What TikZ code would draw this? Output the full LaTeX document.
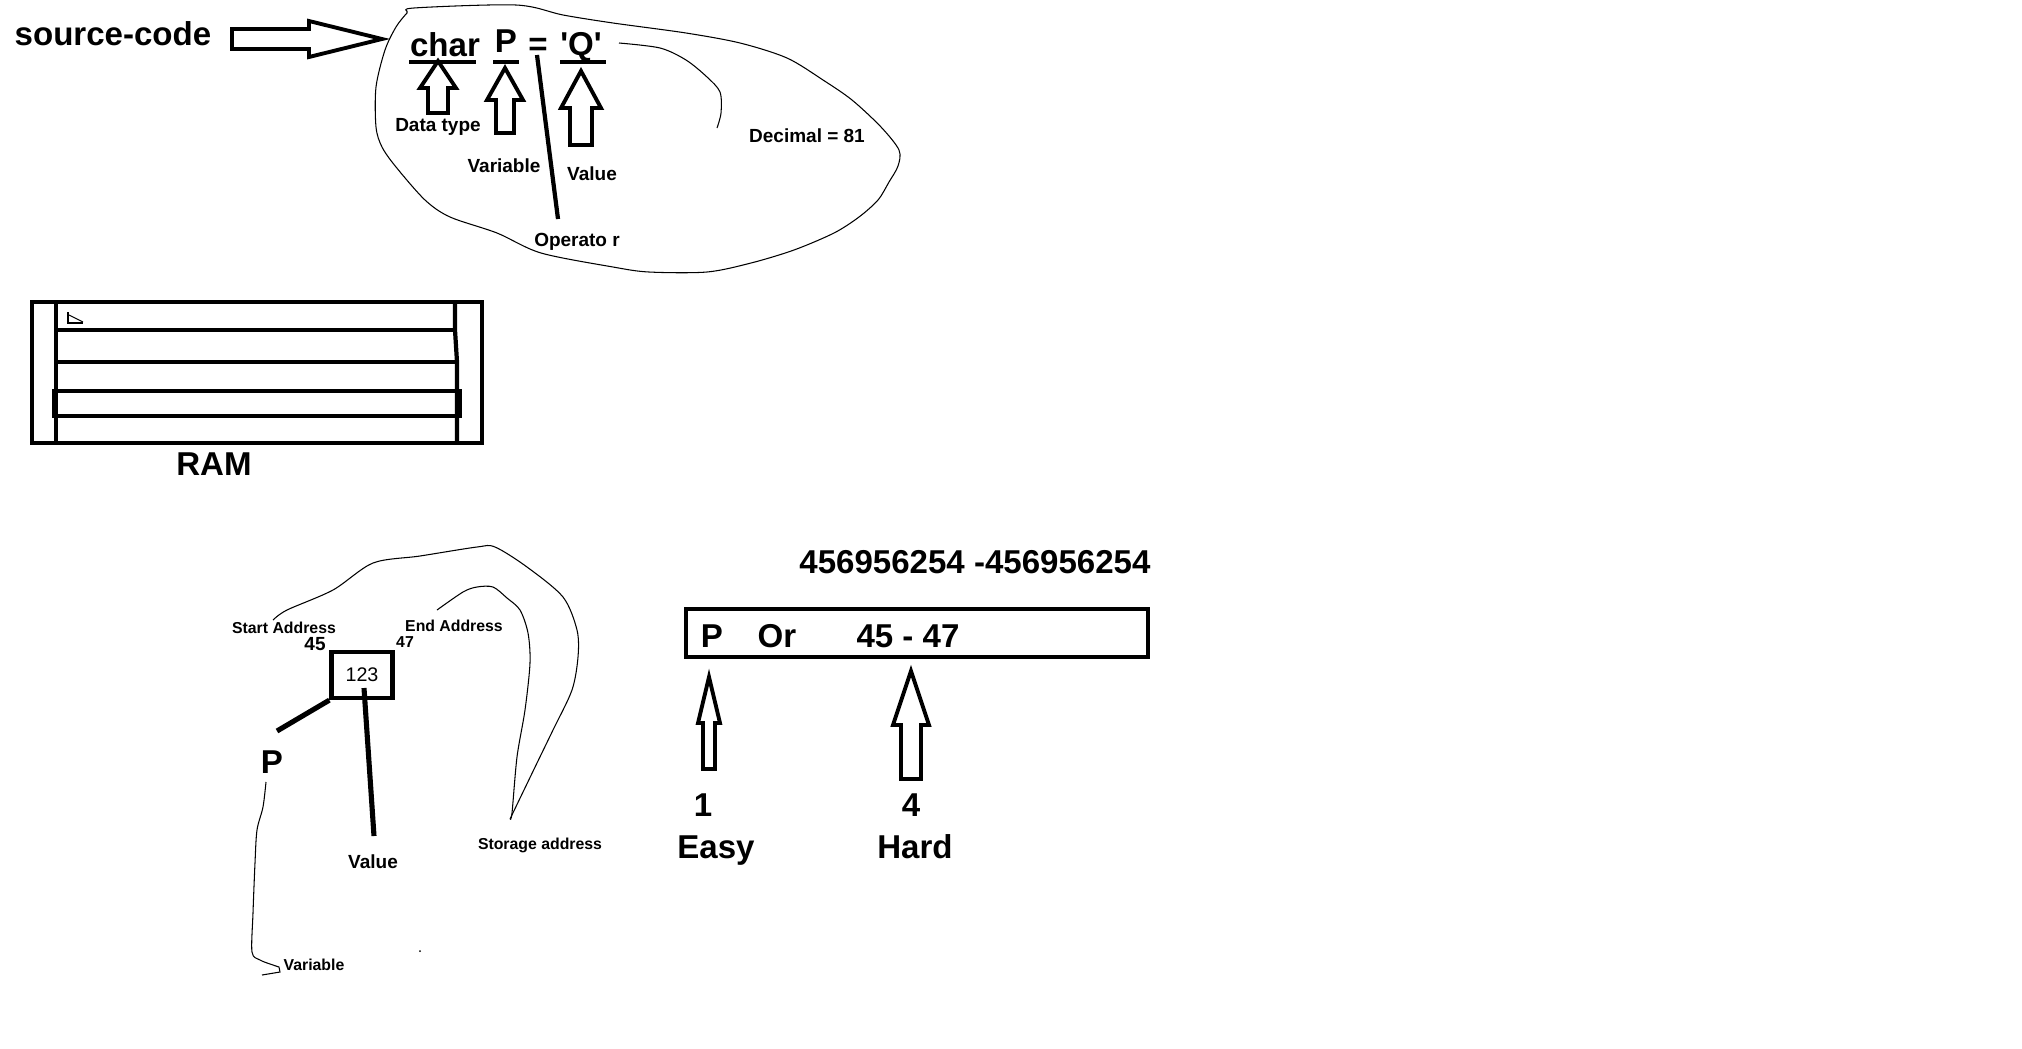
\documentclass[tikz,border=0pt]{standalone}
\usepackage{fontspec}
\setmainfont{Liberation Sans}
\usetikzlibrary{positioning}
\tikzset{
big/.style={font=\bfseries\fontsize{9.4}{10}\selectfont, inner sep=0pt, anchor=base},
lbl/.style={font=\bfseries\fontsize{5.4}{6}\selectfont, inner sep=0pt, anchor=base},
small/.style={font=\bfseries\fontsize{4.5}{5}\selectfont, inner sep=0pt, anchor=base},
heavy/.style={line width=1.2pt},
thick line/.style={line width=1.45pt},
pen/.style={line width=0.3pt},
hollow/.style={line width=1.1pt, line join=miter}
}
% hollow up arrow: x, tip y, head base y, bottom y, head half width, shaft half width
\newcommand{\hollowup}[6]{%
  \draw[hollow] (#1,#2) -- (#1+#5,#3) -- (#1+#6,#3) -- (#1+#6,#4) -- (#1-#6,#4) -- (#1-#6,#3) -- (#1-#5,#3) -- cycle;}

\begin{document}
\begin{tikzpicture}[x=0.01cm, y=-0.01cm]
\useasboundingbox (0,0) rectangle (2022,1048);

% source code
\node[big]	(src)	at (113,45)		{source-code};
\draw[hollow] (232,29) -- (309,29) -- (309,21) -- (382,39) -- (309,57) -- (309,49) -- (232,49) -- cycle;

\node[big]	(char)	at (445,56)		{char};
\node[big]	(var)	at (506,52)		{P};
\node[big]	(eq)	at (538,55)		{=};
\node[big]	(val)	at (581,55)		{\textquotesingle Q\textquotesingle};
\draw[heavy] (409,62) -- (476,62);
\draw[heavy] (493,62) -- (519,62);
\draw[heavy] (560,62) -- (606,62);

\hollowup{438}{61}{88}{113}{18}{10}
\hollowup{505}{68}{100}{133}{18}{9}
\hollowup{581}{71}{108}{145}{20}{11}

\node[lbl]	(dtype)	at (438,131)	{Data type};
\node[lbl]	(varl)	at (504,172)	{Variable};
\node[lbl]	(vall)	at (592,180)	{Value};
\node[lbl]	(opr)	at (577,246)	{Operato r};
\node[lbl]	(dec)	at (807,142)	{Decimal = 81};

\coordinate (optop) at (537,55);
\coordinate (opend) at (558,219);
\draw[heavy] (optop) -- (opend);

\draw[pen] plot[smooth] coordinates {(619,43) (660,48) (686,60) (707,77) (720,92) (721,113) (717,128)};
\draw[pen] plot[smooth cycle] coordinates {(414,8) (516,5) (563,15) (613,23) (686,33) (740,43) (787,58) (823,80) (852,100) (881,127) (899,150) (898,166) (889,182) (878,200) (859,217) (834,233) (794,250) (751,263) (707,272) (649,272) (613,267) (541,253) (497,233) (450,217) (425,200) (396,167) (382,147) (376,127) (376,87) (385,50) (396,27) (407,13)};

% RAM
\draw[heavy] (32,302) rectangle (482,443);
\draw[heavy] (56,302) -- (56,443);
\draw[heavy] (455,302) -- (455,330) -- (457,362) -- (457,443);
\draw[heavy] (56,330) -- (455,330);
\draw[heavy] (56,362) -- (459,362);
\draw[heavy] (54,391) -- (460,391) -- (460,416) -- (54,416) -- cycle;
\draw[pen] (68,312) -- (68,323) -- (83,323);
\draw[pen] (69,315) -- (83,322);
\node[big]	(ram)	at (214,475)	{RAM};

% memory cell
\node[draw, heavy, minimum width=0.61cm, minimum height=0.46cm, inner sep=0pt, font=\fontsize{5.6}{6}\selectfont] (cell) at (362,675) {123};
\node[small]	(start)	at (284,633)	{Start Address};
\node[lbl]	(sa)	at (315,650)	{45};
\node[small]	(ea)	at (405,647)	{47};
\node[small]	(end)	at (454,631)	{End Address};
\node[big]	(pvar)	at (272,773)	{P};
\node[lbl]	(cval)	at (373,868)	{Value};
\node[small]	(store)	at (540,849)	{Storage address};
\node[small]	(varb)	at (314,970)	{Variable};

\coordinate (pend) at (277,731);
\coordinate (vtop) at (364,688);
\coordinate (vend) at (374,836);
\draw[thick line] (cell.south west) -- (pend);
\draw[thick line] (vtop) -- (vend);

\draw[pen] plot[smooth] coordinates {(266,782) (263,807) (257,830) (255,863) (253,913) (252,952) (260,960) (273,965) (279,967)} -- (280,972) -- (262,975);
\draw[pen] plot[smooth] coordinates {(273,620) (287,610) (333,590) (373,563) (420,556) (477,547) (495,547) (527,567) (563,597) (577,630) (578,657) (572,690) (553,730) (537,763) (510,819)};
\draw[pen] plot[smooth] coordinates {(437,610) (463,592) (477,587) (493,587) (507,598) (520,610) (528,633) (530,663) (525,710) (517,757) (512,813) (510,819)};
\fill (420,951) circle (1);

% address slot
\node[big]	(range)	at (975,573)	{456956254 -456956254};
\node[draw, heavy, minimum width=4.61cm, minimum height=0.48cm, inner sep=0pt] (slot) at (917,633) {};
\node[big]	(sp)	at (712,647)	{P};
\node[big]	(sor)	at (777,647)	{Or};
\node[big]	(srng)	at (908,647)	{45 - 47};

\hollowup{709}{677}{723}{769}{11}{6}
\hollowup{911}{671}{725}{779}{18}{10}

\node[big]	(one)	at (703,816)	{1};
\node[big]	(four)	at (911,816)	{4};
\node[big]	(easy)	at (716,858)	{Easy};
\node[big]	(hard)	at (915,858)	{Hard};
\end{tikzpicture}
\end{document}
